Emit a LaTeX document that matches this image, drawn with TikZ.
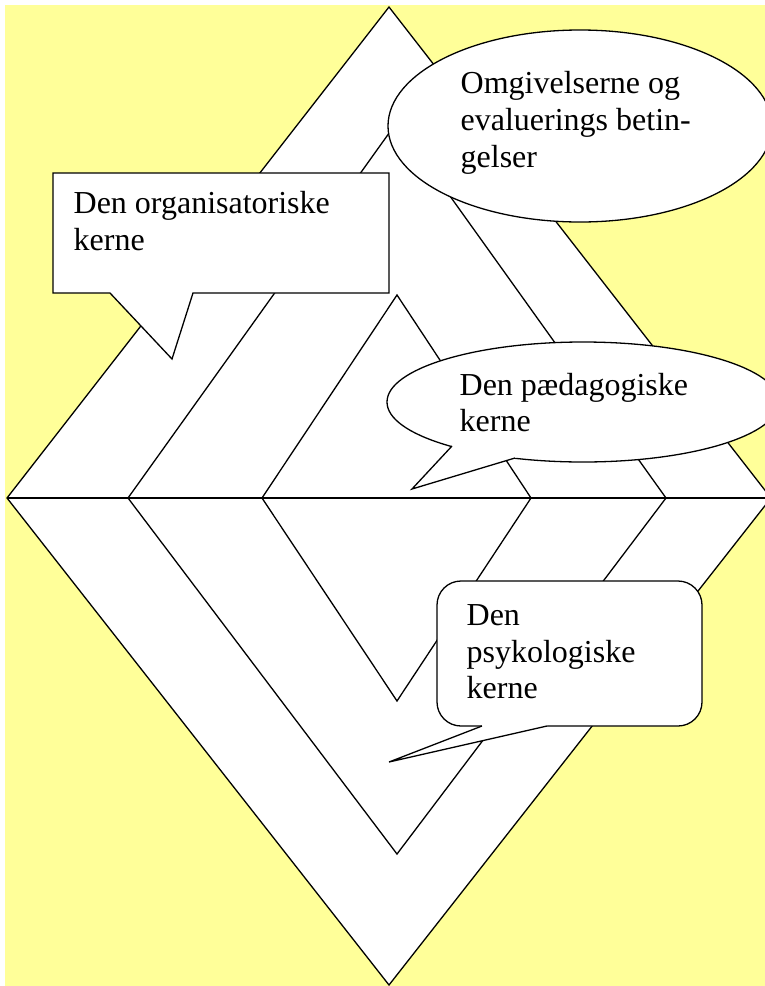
\documentclass[tikz,border=0pt]{standalone}
\usepackage{fontspec}
\setmainfont{Liberation Serif}
\definecolor{bgyellow}{HTML}{FFFF99}
\begin{document}
\begin{tikzpicture}[x=1pt,y=-1pt,line width=1.3pt,line join=miter,
  linetext/.style={anchor=base west,inner sep=0pt,font=\fontsize{32}{37}\selectfont},
  whiteshape/.style={draw=black,fill=white}]
\clip (0,0) rectangle (765,986);
\fill[white] (0,0) rectangle (765,986);
\fill[bgyellow] (5,5) rectangle (765,986);
% diamond vertices
\coordinate (OT) at (389,7);
\coordinate (OR) at (771,498);
\coordinate (OB) at (389,985);
\coordinate (OL) at (7,498);
\coordinate (MT) at (397,122);
\coordinate (MR) at (666,498);
\coordinate (MB) at (397,854);
\coordinate (ML) at (128,498);
\coordinate (IT) at (397,295);
\coordinate (IR) at (531,498);
\coordinate (IB) at (397,701);
\coordinate (IL) at (262,498);
\draw[whiteshape] (OT) -- (OR) -- (OB) -- (OL) -- cycle;
\draw (MT) -- (MR) -- (MB) -- (ML) -- cycle;
\draw (IT) -- (IR) -- (IB) -- (IL) -- cycle;
\draw (OL) -- (OR);
% rectangular callout
\coordinate (RA) at (53,173);
\coordinate (RB) at (389,173);
\coordinate (RC) at (389,293);
\coordinate (RD) at (53,293);
\coordinate (RT) at (172,359);
\draw[whiteshape] (RA) -- (RB) -- (RC) -- (193,293) -- (RT) -- (110,293) -- (RD) -- cycle;
\node[linetext] (org1) at (73,213) {Den organisatoriske};
\node[linetext] (org2) at (73,250) {kerne};
% top ellipse
\coordinate (EC) at (580,126);
\draw[whiteshape] (EC) ellipse [x radius=192, y radius=96];
\node[linetext] (omg1) at (460,93) {Omgivelserne og};
\node[linetext] (omg2) at (460,130) {evaluerings betin-};
\node[linetext] (omg3) at (460,167) {gelser};
% ellipse callout
\coordinate (PC) at (583,402);
\coordinate (PA) at (452,446);
\coordinate (PB) at (515,458);
\coordinate (PT) at (412,489);
\draw[whiteshape] (PC) ellipse [x radius=196, y radius=60];
\fill[white] (PA) -- (PT) -- (PB) -- (PC) -- cycle;
\draw (PA) -- (PT) -- (PB);
\node[linetext] (paed1) at (459,395) {Den pædagogiske};
\node[linetext] (paed2) at (459,431) {kerne};
% rounded rectangle callout
\coordinate (SA) at (482,726);
\coordinate (SB) at (547,726);
\coordinate (ST) at (389,762);
\draw[whiteshape,rounded corners=24pt] (437,581) rectangle (702,726);
\fill[white] (SA) -- (ST) -- (SB) -- (547,715) -- (482,715) -- cycle;
\draw (SA) -- (ST) -- (SB);
\node[linetext] (psy1) at (466,625) {Den};
\node[linetext] (psy2) at (466,662) {psykologiske};
\node[linetext] (psy3) at (466,698) {kerne};
\end{tikzpicture}
\end{document}
